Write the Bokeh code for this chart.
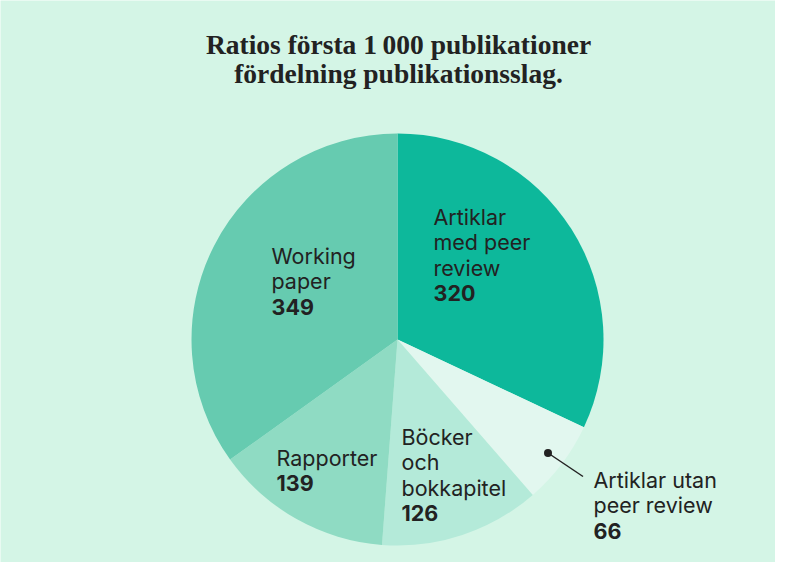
import numpy as np
from bokeh.plotting import figure
from bokeh.models import ColumnDataSource, Range1d
from bokeh.core.properties import value
from bokeh.embed import file_html
from bokeh.resources import INLINE

# ---- data ----
title_lines = ["Ratios första 1\u2009000 publikationer", "fördelning publikationsslag."]
categories = ["Artiklar med peer review", "Artiklar utan peer review",
              "Böcker och bokkapitel", "Rapporter", "Working paper"]
counts = [320, 66, 126, 139, 349]
label_lines = [["Artiklar", "med peer", "review"],
               ["Artiklar utan", "peer review"],
               ["Böcker", "och", "bokkapitel"],
               ["Rapporter"],
               ["Working", "paper"]]

# ---- styling / layout ----
colors = ["#0db89b", "#e2f7ef", "#b4ead9", "#8fdbc3", "#66cbb0"]
BG = "#d4f5e6"
TXT = "#222222"
W, H = 775, 562
PAGE_H = 578

def sy(y):  # picture y -> data y
    return PAGE_H - y

cx, cy, R = 397, 339, 206
# first-line baseline (picture coords) for each label
label_anchor = [(433, 216), (593, 479), (401, 436), (276, 457), (271, 255)]
LINE = 25.5
FS = "21.5px"
FONT = "Inter"

p = figure(width=W, height=H, output_backend="svg", toolbar_location=None,
           x_range=Range1d(0, W), y_range=Range1d(PAGE_H - H, PAGE_H),
           min_border=0)
p.axis.visible = False
p.grid.visible = False
p.background_fill_color = BG
p.border_fill_color = BG
p.outline_line_color = None

# wedges, starting at 12 o'clock going clockwise
frac = np.array(counts, dtype=float) / sum(counts)
cum = np.concatenate([[0], np.cumsum(frac)])
start = np.pi / 2 - cum[1:] * 2 * np.pi
end = np.pi / 2 - cum[:-1] * 2 * np.pi
src = ColumnDataSource(dict(start=start, end=end, color=colors, cat=categories, n=counts))
p.wedge(x=cx, y=sy(cy), radius=R, start_angle="start", end_angle="end",
        direction="anticlock", fill_color="color", line_color=None, source=src)

# labels
for lines, n, (lx, ly) in zip(label_lines, counts, label_anchor):
    ys = [sy(ly + i * LINE) for i in range(len(lines))]
    p.text(x=[lx] * len(lines), y=ys, text=lines, text_font=value(FONT),
           text_font_size=FS, text_color=TXT, text_baseline="alphabetic", text_align="left")
    p.text(x=[lx], y=[sy(ly + len(lines) * LINE)], text=[str(n)], text_font=value(FONT),
           text_font_size=FS, text_font_style="bold", text_color=TXT,
           text_baseline="alphabetic", text_align="left")

# leader for small slice
p.line(x=[547.5, 582.5], y=[sy(452.5), sy(476)], line_color=TXT, line_width=1.5)
p.scatter(x=[547.5], y=[sy(452.5)], size=8, fill_color=TXT, line_color=None)

# title
p.text(x=[398, 398], y=[sy(44), sy(73)], text=title_lines, text_font=value("Liberation Serif"),
       text_font_size="27.5px", text_font_style="bold", text_color=TXT,
       text_align="center", text_baseline="alphabetic")

open("out.html", "w").write(file_html(p, INLINE))
